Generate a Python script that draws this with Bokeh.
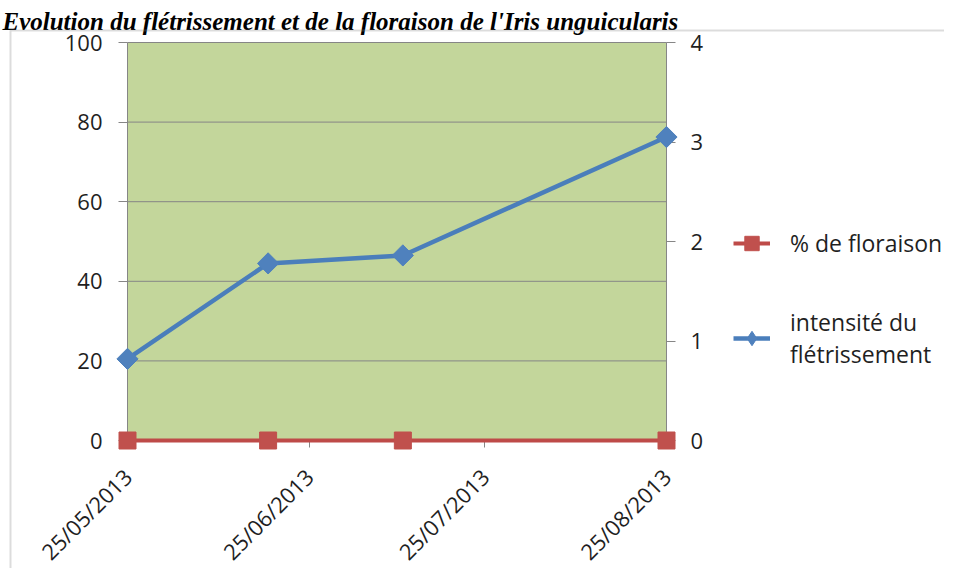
import datetime as dt
from math import pi
from bokeh.plotting import figure
from bokeh.models import (LinearAxis, Range1d, FixedTicker, DatetimeTickFormatter,
                          Legend, LegendItem, Label, BoxAnnotation)
from bokeh.embed import file_html
from bokeh.resources import INLINE

# ---------------- data ----------------
title_text = "Evolution du flétrissement et de la floraison de l'Iris unguicularis"
dates = [dt.datetime(2013, 5, 25), dt.datetime(2013, 6, 18),
         dt.datetime(2013, 7, 11), dt.datetime(2013, 8, 25)]
floraison = [0, 0, 0, 0]
fletrissement = [0.82, 1.78, 1.86, 3.05]
x_tick_dates = [dt.datetime(2013, 5, 25), dt.datetime(2013, 6, 25),
                dt.datetime(2013, 7, 25), dt.datetime(2013, 8, 25)]
left_ticks = [0, 20, 40, 60, 80, 100]
right_ticks = [0, 1, 2, 3, 4]
label_floraison = "% de floraison"
label_fletr = "intensité du\nflétrissement"

# ---------------- layout ----------------
def ms(d):
    return (d - dt.datetime(1970, 1, 1)).total_seconds() * 1000.0

W, H = 944, 568
g_left, g_right, g_top, g_bottom = 127, 666, 42, 440   # green plot area on canvas
gw = g_right - g_left
gh = g_bottom - g_top

x0, x1 = ms(x_tick_dates[0]), ms(x_tick_dates[-1])
yl0, yl1 = left_ticks[0], left_ticks[-1]
yr0, yr1 = right_ticks[0], right_ticks[-1]
sx = (x1 - x0) / gw
syl = (yl1 - yl0) / gh
syr = (yr1 - yr0) / gh

GRAY = "#868686"
TXT = "#1f1f1f"
FONT = "Open Sans"

p = figure(width=W, height=H, x_axis_type="datetime",
           x_range=Range1d(x0 - g_left * sx, x1 + (W - g_right) * sx),
           y_range=Range1d(yl0 - (H - g_bottom) * syl, yl1 + g_top * syl),
           output_backend="svg", toolbar_location=None,
           min_border_left=0, min_border_right=0,
           min_border_top=0, min_border_bottom=0)
p.extra_y_ranges = {"right": Range1d(yr0 - (H - g_bottom) * syr, yr1 + g_top * syr)}
p.background_fill_color = "white"
p.border_fill_color = "white"
p.outline_line_color = None
p.xgrid.visible = False
p.ygrid.visible = False

# green plot area + gridlines
p.quad(left=[x0], right=[x1], bottom=[yl0], top=[yl1],
       fill_color="#C3D69B", line_color=None, level="image")
n = len(left_ticks) - 1
p.segment(x0=[x0] * n, x1=[x1] * n, y0=left_ticks[1:], y1=left_ticks[1:],
          line_color=GRAY, line_width=1, level="underlay")

# axes
def style(ax, tick_out, standoff):
    ax.axis_line_color = GRAY
    ax.axis_line_width = 1
    ax.major_tick_line_color = GRAY
    ax.minor_tick_line_color = None
    ax.major_tick_in = 0
    ax.major_tick_out = tick_out
    ax.major_label_text_font = FONT
    ax.major_label_text_font_size = "22px"
    ax.major_label_text_color = TXT
    ax.major_label_standoff = standoff

xa = p.xaxis[0]
xa.ticker = FixedTicker(ticks=[ms(d) for d in x_tick_dates])
fmt = "%d/%m/%Y"
xa.formatter = DatetimeTickFormatter(days=fmt, months=fmt, years=fmt, hours=fmt,
                                     hourmin=fmt, minutes=fmt)
xa.fixed_location = yl0
xa.bounds = (x0, x1)
xa.major_label_orientation = pi / 4
style(xa, 7, 25)

ya = p.yaxis[0]
ya.ticker = FixedTicker(ticks=left_ticks)
ya.fixed_location = x0
ya.bounds = (yl0, yl1)
style(ya, 9, 16)

ra = LinearAxis(y_range_name="right", ticker=FixedTicker(ticks=right_ticks),
                fixed_location=x1, bounds=(yr0, yr1))
style(ra, 9, 15)
p.add_layout(ra, "right")

# data
RED_L, RED_F = "#BE4B48", "#C0504D"
BLUE_L, BLUE_F = "#4A7EBB", "#4F81BD"
rl = p.line(dates, floraison, line_color=RED_L, line_width=4, level="overlay")
rs = p.scatter(dates, floraison, marker="square", size=17,
               fill_color=RED_F, line_color=RED_F, level="overlay")
bl = p.line(dates, fletrissement, y_range_name="right", line_color=BLUE_L,
            line_width=4.5, level="overlay")
bs = p.scatter(dates, fletrissement, y_range_name="right", marker="square",
               angle=pi / 4, size=15, fill_color=BLUE_F, line_color=BLUE_F,
               level="overlay")
# legend-only diamond (legend glyphs ignore marker angle); not drawn in the plot
bd = p.scatter(x=dates[:1], y=[float("nan")], y_range_name="right",
               marker="diamond", size=15, fill_color=BLUE_F, line_color=BLUE_F)

legend = Legend(items=[LegendItem(label=label_floraison, renderers=[rl, rs]),
                       LegendItem(label=label_fletr, renderers=[bl, bd])],
                location=(733, H - 370),
                orientation="vertical", glyph_width=37, glyph_height=36,
                label_standoff=20, spacing=45, padding=0, margin=0,
                border_line_color=None, background_fill_alpha=0,
                label_text_font=FONT, label_text_font_size="23px",
                label_text_color=TXT, label_text_line_height=1.36)
p.add_layout(legend, "center")

# title and outer border
p.add_layout(Label(x=2, y=H - 21,
                   x_units="screen", y_units="screen", text=title_text,
                   text_font="Liberation Serif", text_font_style="bold italic",
                   text_font_size="25px", text_color="black",
                   text_baseline="alphabetic", text_align="left"))
p.add_layout(BoxAnnotation(left=10, right=3000,
                           top=yl1 + (g_top - 30) * syl, bottom=-1000,
                           left_units="screen", right_units="screen",
                           fill_color=None, line_color="#8c8c8c", line_width=2,
                           level="overlay"))

open("out.html", "w").write(file_html(p, INLINE))
